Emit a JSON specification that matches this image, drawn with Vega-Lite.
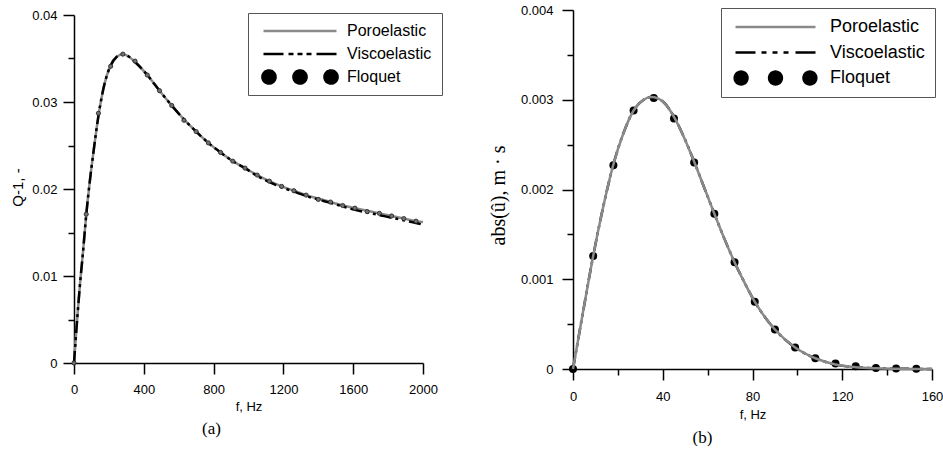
{
  "$schema": "https://vega.github.io/schema/vega-lite/v6.json",
  "background": "white",
  "padding": {"left": 10, "top": 4, "right": 0, "bottom": 0},
  "spacing": 45,
  "resolve": {"scale": {"color": "independent"}, "legend": {"color": "independent"}},
  "config": {
    "view": {"stroke": null},
    "axis": {"grid": false, "domainColor": "black", "domainWidth": 1.5, "tickColor": "black", "tickWidth": 1.5, "labelColor": "black", "labelFont": "Liberation Sans", "labelFontSize": 13, "titleFont": "Liberation Sans", "titleFontSize": 13, "titleFontWeight": "normal", "titleColor": "black"},
    "legend": {"labelFont": "Liberation Sans", "labelColor": "black", "strokeColor": "#555555", "fillColor": "white", "symbolType": "stroke", "cornerRadius": 0},
    "title": {"font": "Liberation Serif", "fontWeight": "normal", "fontSize": 17, "color": "black"}
  },
  "datasets": {
    "a_lines": [
      {"series": "Poroelastic", "f": 0, "v": 0}, {"series": "Poroelastic", "f": 10, "v": 0.0028}, {"series": "Poroelastic", "f": 20, "v": 0.0055}, {"series": "Poroelastic", "f": 35, "v": 0.0092}, {"series": "Poroelastic", "f": 50, "v": 0.0124}, {"series": "Poroelastic", "f": 70, "v": 0.017}, {"series": "Poroelastic", "f": 90, "v": 0.0208}, {"series": "Poroelastic", "f": 110, "v": 0.024}, {"series": "Poroelastic", "f": 140, "v": 0.0284}, {"series": "Poroelastic", "f": 175, "v": 0.0321}, {"series": "Poroelastic", "f": 210, "v": 0.0342}, {"series": "Poroelastic", "f": 245, "v": 0.0352}, {"series": "Poroelastic", "f": 280, "v": 0.0355}, {"series": "Poroelastic", "f": 315, "v": 0.0352}, {"series": "Poroelastic", "f": 350, "v": 0.0346}, {"series": "Poroelastic", "f": 420, "v": 0.0331}, {"series": "Poroelastic", "f": 490, "v": 0.0313}, {"series": "Poroelastic", "f": 560, "v": 0.0296}, {"series": "Poroelastic", "f": 630, "v": 0.028}, {"series": "Poroelastic", "f": 700, "v": 0.0266}, {"series": "Poroelastic", "f": 770, "v": 0.0253}, {"series": "Poroelastic", "f": 840, "v": 0.0242}, {"series": "Poroelastic", "f": 910, "v": 0.0232}, {"series": "Poroelastic", "f": 980, "v": 0.0224}, {"series": "Poroelastic", "f": 1050, "v": 0.0216}, {"series": "Poroelastic", "f": 1120, "v": 0.0209}, {"series": "Poroelastic", "f": 1190, "v": 0.0203}, {"series": "Poroelastic", "f": 1260, "v": 0.0198}, {"series": "Poroelastic", "f": 1330, "v": 0.0193}, {"series": "Poroelastic", "f": 1400, "v": 0.0189}, {"series": "Poroelastic", "f": 1470, "v": 0.0185}, {"series": "Poroelastic", "f": 1540, "v": 0.0181}, {"series": "Poroelastic", "f": 1610, "v": 0.0178}, {"series": "Poroelastic", "f": 1680, "v": 0.0175}, {"series": "Poroelastic", "f": 1750, "v": 0.0172}, {"series": "Poroelastic", "f": 1820, "v": 0.0169}, {"series": "Poroelastic", "f": 1890, "v": 0.0166}, {"series": "Poroelastic", "f": 1960, "v": 0.0163}, {"series": "Poroelastic", "f": 2000, "v": 0.0162},
      {"series": "Viscoelastic", "f": 0, "v": 0}, {"series": "Viscoelastic", "f": 10, "v": 0.0028}, {"series": "Viscoelastic", "f": 20, "v": 0.0055}, {"series": "Viscoelastic", "f": 35, "v": 0.0092}, {"series": "Viscoelastic", "f": 50, "v": 0.0124}, {"series": "Viscoelastic", "f": 70, "v": 0.017}, {"series": "Viscoelastic", "f": 90, "v": 0.0208}, {"series": "Viscoelastic", "f": 110, "v": 0.024}, {"series": "Viscoelastic", "f": 140, "v": 0.0284}, {"series": "Viscoelastic", "f": 175, "v": 0.0321}, {"series": "Viscoelastic", "f": 210, "v": 0.0342}, {"series": "Viscoelastic", "f": 245, "v": 0.0352}, {"series": "Viscoelastic", "f": 280, "v": 0.0355}, {"series": "Viscoelastic", "f": 315, "v": 0.0352}, {"series": "Viscoelastic", "f": 350, "v": 0.0346}, {"series": "Viscoelastic", "f": 420, "v": 0.0331}, {"series": "Viscoelastic", "f": 490, "v": 0.0313}, {"series": "Viscoelastic", "f": 560, "v": 0.0296}, {"series": "Viscoelastic", "f": 630, "v": 0.028}, {"series": "Viscoelastic", "f": 700, "v": 0.0266}, {"series": "Viscoelastic", "f": 770, "v": 0.0253}, {"series": "Viscoelastic", "f": 840, "v": 0.0242}, {"series": "Viscoelastic", "f": 910, "v": 0.0232}, {"series": "Viscoelastic", "f": 980, "v": 0.0224}, {"series": "Viscoelastic", "f": 1050, "v": 0.0215}, {"series": "Viscoelastic", "f": 1120, "v": 0.0208}, {"series": "Viscoelastic", "f": 1190, "v": 0.0202}, {"series": "Viscoelastic", "f": 1260, "v": 0.0197}, {"series": "Viscoelastic", "f": 1330, "v": 0.0192}, {"series": "Viscoelastic", "f": 1400, "v": 0.0188}, {"series": "Viscoelastic", "f": 1470, "v": 0.0184}, {"series": "Viscoelastic", "f": 1540, "v": 0.018}, {"series": "Viscoelastic", "f": 1610, "v": 0.0176}, {"series": "Viscoelastic", "f": 1680, "v": 0.0173}, {"series": "Viscoelastic", "f": 1750, "v": 0.017}, {"series": "Viscoelastic", "f": 1820, "v": 0.0167}, {"series": "Viscoelastic", "f": 1890, "v": 0.0164}, {"series": "Viscoelastic", "f": 1960, "v": 0.0161}, {"series": "Viscoelastic", "f": 2000, "v": 0.0159}
    ],
    "a_pts": [
      {"f": 0, "v": 0}, {"f": 70, "v": 0.0171}, {"f": 140, "v": 0.0287}, {"f": 210, "v": 0.0341}, {"f": 280, "v": 0.0355}, {"f": 350, "v": 0.0347}, {"f": 420, "v": 0.0331}, {"f": 490, "v": 0.0313}, {"f": 560, "v": 0.0296}, {"f": 630, "v": 0.0279}, {"f": 700, "v": 0.0266}, {"f": 770, "v": 0.0253}, {"f": 840, "v": 0.0242}, {"f": 910, "v": 0.0232}, {"f": 980, "v": 0.0224}, {"f": 1050, "v": 0.0216}, {"f": 1120, "v": 0.0209}, {"f": 1190, "v": 0.0203}, {"f": 1260, "v": 0.0198}, {"f": 1330, "v": 0.0193}, {"f": 1400, "v": 0.0188}, {"f": 1470, "v": 0.0185}, {"f": 1540, "v": 0.0181}, {"f": 1610, "v": 0.0178}, {"f": 1680, "v": 0.0174}, {"f": 1750, "v": 0.0172}, {"f": 1820, "v": 0.0169}, {"f": 1890, "v": 0.0166}, {"f": 1960, "v": 0.0163}
    ],
    "b_lines": [
      {"series": "Poroelastic", "f": 0, "v": 0}, {"series": "Poroelastic", "f": 4.5, "v": 0.00064}, {"series": "Poroelastic", "f": 9, "v": 0.00126}, {"series": "Poroelastic", "f": 13.5, "v": 0.00181}, {"series": "Poroelastic", "f": 18, "v": 0.00228}, {"series": "Poroelastic", "f": 22.5, "v": 0.00263}, {"series": "Poroelastic", "f": 27, "v": 0.00288}, {"series": "Poroelastic", "f": 31.5, "v": 0.003}, {"series": "Poroelastic", "f": 35, "v": 0.00303}, {"series": "Poroelastic", "f": 40.5, "v": 0.00297}, {"series": "Poroelastic", "f": 45, "v": 0.00281}, {"series": "Poroelastic", "f": 49.5, "v": 0.00258}, {"series": "Poroelastic", "f": 54, "v": 0.00231}, {"series": "Poroelastic", "f": 58.5, "v": 0.00202}, {"series": "Poroelastic", "f": 63, "v": 0.00173}, {"series": "Poroelastic", "f": 67.5, "v": 0.00145}, {"series": "Poroelastic", "f": 72, "v": 0.00119}, {"series": "Poroelastic", "f": 76.5, "v": 0.00096}, {"series": "Poroelastic", "f": 81, "v": 0.00075}, {"series": "Poroelastic", "f": 85.5, "v": 0.00058}, {"series": "Poroelastic", "f": 90, "v": 0.00044}, {"series": "Poroelastic", "f": 99, "v": 0.00024}, {"series": "Poroelastic", "f": 108, "v": 0.00012}, {"series": "Poroelastic", "f": 117, "v": 0.00005}, {"series": "Poroelastic", "f": 126, "v": 0.00002}, {"series": "Poroelastic", "f": 135, "v": 0.000008}, {"series": "Poroelastic", "f": 144, "v": 0.000003}, {"series": "Poroelastic", "f": 153, "v": 0.000001}, {"series": "Poroelastic", "f": 160, "v": 0},
      {"series": "Viscoelastic", "f": 0, "v": 0}, {"series": "Viscoelastic", "f": 4.5, "v": 0.00064}, {"series": "Viscoelastic", "f": 9, "v": 0.00126}, {"series": "Viscoelastic", "f": 13.5, "v": 0.00181}, {"series": "Viscoelastic", "f": 18, "v": 0.00228}, {"series": "Viscoelastic", "f": 22.5, "v": 0.00263}, {"series": "Viscoelastic", "f": 27, "v": 0.00288}, {"series": "Viscoelastic", "f": 31.5, "v": 0.003}, {"series": "Viscoelastic", "f": 35, "v": 0.00303}, {"series": "Viscoelastic", "f": 40.5, "v": 0.00297}, {"series": "Viscoelastic", "f": 45, "v": 0.00281}, {"series": "Viscoelastic", "f": 49.5, "v": 0.00258}, {"series": "Viscoelastic", "f": 54, "v": 0.00231}, {"series": "Viscoelastic", "f": 58.5, "v": 0.00202}, {"series": "Viscoelastic", "f": 63, "v": 0.00173}, {"series": "Viscoelastic", "f": 67.5, "v": 0.00145}, {"series": "Viscoelastic", "f": 72, "v": 0.00119}, {"series": "Viscoelastic", "f": 76.5, "v": 0.00096}, {"series": "Viscoelastic", "f": 81, "v": 0.00075}, {"series": "Viscoelastic", "f": 85.5, "v": 0.00058}, {"series": "Viscoelastic", "f": 90, "v": 0.00044}, {"series": "Viscoelastic", "f": 99, "v": 0.00024}, {"series": "Viscoelastic", "f": 108, "v": 0.00012}, {"series": "Viscoelastic", "f": 117, "v": 0.00005}, {"series": "Viscoelastic", "f": 126, "v": 0.00002}, {"series": "Viscoelastic", "f": 135, "v": 0.000008}, {"series": "Viscoelastic", "f": 144, "v": 0.000003}, {"series": "Viscoelastic", "f": 153, "v": 0.000001}, {"series": "Viscoelastic", "f": 160, "v": 0}
    ],
    "b_pts": [
      {"f": 0, "v": 0}, {"f": 9, "v": 0.00126}, {"f": 18, "v": 0.00227}, {"f": 27, "v": 0.00288}, {"f": 36, "v": 0.00302}, {"f": 45, "v": 0.00279}, {"f": 54, "v": 0.0023}, {"f": 63, "v": 0.00173}, {"f": 72, "v": 0.00119}, {"f": 81, "v": 0.00075}, {"f": 90, "v": 0.00044}, {"f": 99, "v": 0.00024}, {"f": 108, "v": 0.00012}, {"f": 117, "v": 0.00006}, {"f": 126, "v": 0.00003}, {"f": 135, "v": 0.00001}, {"f": 144, "v": 0.000005}, {"f": 153, "v": 0.000002}
    ],
    "spacer": []
  },
  "hconcat": [
    {
      "spacing": 0,
      "bounds": "flush",
      "resolve": {"scale": {"color": "independent"}, "legend": {"color": "independent"}},
      "vconcat": [
        {"width": 349, "height": 5, "data": {"name": "spacer"}, "mark": "point"},
        {
          "width": 349,
          "height": 348,
          "title": {"text": "(a)", "orient": "bottom", "anchor": "middle", "dx": -37, "offset": 8},
          "layer": [
            {
              "data": {"name": "a_lines"},
              "transform": [{"filter": "datum.series === 'Poroelastic'"}],
              "mark": {"type": "line", "strokeWidth": 2.5, "interpolate": "monotone", "clip": false},
              "encoding": {
                "x": {"field": "f", "type": "quantitative", "scale": {"domain": [0, 2000], "nice": false, "zero": true},
                  "axis": {"title": "f, Hz", "values": [0, 200, 400, 600, 800, 1000, 1200, 1400, 1600, 1800, 2000], "format": "d", "labelExpr": "datum.value % 400 === 0 ? datum.label : ''", "tickSize": {"condition": {"test": "datum.value % 400 === 0", "value": 11}, "value": 6}, "labelPadding": 9, "titlePadding": 4, "labelFlush": false, "labelOverlap": false}},
                "y": {"field": "v", "type": "quantitative", "scale": {"domain": [0, 0.04], "nice": false},
                  "axis": {"title": "Q-1,  -", "titleFontSize": 15, "titleY": 172, "values": [0, 0.005, 0.01, 0.015, 0.02, 0.025, 0.03, 0.035, 0.04], "format": "~g", "labelExpr": "round(datum.value * 1000) % 10 === 0 ? datum.label : ''", "tickSize": {"condition": {"test": "round(datum.value * 1000) % 10 === 0", "value": 11}, "value": 6}, "labelPadding": 6, "titlePadding": 6, "labelFlush": false, "labelOverlap": false}},
                "color": {"field": "series", "type": "nominal",
                  "scale": {"domain": ["Poroelastic", "Viscoelastic", "Floquet"], "range": ["#8a8a8a", "#000000", "#000000"]},
                  "legend": {"title": null, "orient": "none", "legendX": 174, "legendY": -2, "padding": 10, "symbolSize": 5329, "symbolStrokeWidth": 2.5, "symbolOffset": 4, "clipHeight": 16, "rowPadding": 7, "labelFontSize": 16, "labelOffset": 9, "labelLimit": 0,
                    "encode": {"symbols": {"update": {
                      "shape": {"signal": "datum.value === 'Floquet' ? 'M-1.03,0A0.18,0.18 0 1,0 -0.67,0A0.18,0.18 0 1,0 -1.03,0ZM-0.18,0A0.18,0.18 0 1,0 0.18,0A0.18,0.18 0 1,0 -0.18,0ZM0.67,0A0.18,0.18 0 1,0 1.03,0A0.18,0.18 0 1,0 0.67,0Z' : 'stroke'"},
                      "fill": {"signal": "datum.value === 'Floquet' ? 'black' : 'transparent'"},
                      "stroke": {"signal": "datum.value === 'Poroelastic' ? '#8a8a8a' : (datum.value === 'Viscoelastic' ? 'black' : 'transparent')"},
                      "strokeDash": {"signal": "datum.value === 'Viscoelastic' ? [20, 5, 5, 4, 5, 4, 5, 5, 20] : [1, 0]"},
                      "strokeWidth": {"value": 2.5},
                      "size": {"value": 5329},
                      "opacity": {"value": 1}
                    }}}}}
              }
            },
            {
              "data": {"name": "a_lines"},
              "transform": [{"filter": "datum.series === 'Viscoelastic'"}],
              "mark": {"type": "line", "strokeWidth": 2.5, "interpolate": "monotone", "strokeDash": [12, 4, 3, 4, 3, 4], "clip": false},
              "encoding": {
                "x": {"field": "f", "type": "quantitative"},
                "y": {"field": "v", "type": "quantitative"},
                "color": {"field": "series", "type": "nominal"}
              }
            },
            {
              "data": {"name": "a_pts"},
              "mark": {"type": "point", "filled": true, "size": 18, "color": "#707070", "stroke": "#222222", "strokeWidth": 0.8, "opacity": 1, "clip": false},
              "encoding": {
                "x": {"field": "f", "type": "quantitative"},
                "y": {"field": "v", "type": "quantitative"}
              }
            }
          ]
        }
      ]
    },
    {
      "width": 359,
      "height": 359,
      "title": {"text": "(b)", "orient": "bottom", "anchor": "middle", "dx": -50, "offset": 9},
      "layer": [
        {
          "data": {"name": "b_pts"},
          "mark": {"type": "point", "filled": true, "size": 64, "color": "#000000", "opacity": 1, "clip": false},
          "encoding": {
            "x": {"field": "f", "type": "quantitative", "scale": {"domain": [0, 160], "nice": false},
              "axis": {"title": "f, Hz", "values": [0, 20, 40, 60, 80, 100, 120, 140, 160], "format": "d", "labelExpr": "datum.value % 40 === 0 ? datum.label : ''", "tickSize": {"condition": {"test": "datum.value % 40 === 0", "value": 11}, "value": 6}, "labelPadding": 10, "titlePadding": 5, "labelFlush": false, "labelOverlap": false}},
            "y": {"field": "v", "type": "quantitative", "scale": {"domain": [0, 0.004], "nice": false},
              "axis": {"title": "abs(û), m · s", "titleFont": "Liberation Serif", "titleFontSize": 20, "titleY": 185, "values": [0, 0.0005, 0.001, 0.0015, 0.002, 0.0025, 0.003, 0.0035, 0.004], "format": "~g", "labelExpr": "round(datum.value * 10000) % 10 === 0 ? datum.label : ''", "tickSize": {"condition": {"test": "round(datum.value * 10000) % 10 === 0", "value": 11}, "value": 6}, "labelPadding": 9, "titlePadding": 12, "labelFlush": false, "labelOverlap": false}}
          }
        },
        {
          "data": {"name": "b_lines"},
          "transform": [{"filter": "datum.series === 'Viscoelastic'"}],
          "mark": {"type": "line", "strokeWidth": 2.5, "interpolate": "monotone", "strokeDash": [12, 4, 3, 4, 3, 4], "clip": false},
          "encoding": {
            "x": {"field": "f", "type": "quantitative"},
            "y": {"field": "v", "type": "quantitative"},
            "color": {"field": "series", "type": "nominal",
              "scale": {"domain": ["Poroelastic", "Viscoelastic", "Floquet"], "range": ["#8a8a8a", "#000000", "#000000"]},
              "legend": {"title": null, "orient": "none", "legendX": 148, "legendY": -2, "padding": 10, "symbolSize": 6400, "symbolStrokeWidth": 2.5, "symbolOffset": 3, "clipHeight": 18, "rowPadding": 7.5, "labelFontSize": 18, "labelOffset": 13, "labelLimit": 0,
                "encode": {"symbols": {"update": {
                  "shape": {"signal": "datum.value === 'Floquet' ? 'M-1.02,0A0.16,0.16 0 1,0 -0.7,0A0.16,0.16 0 1,0 -1.02,0ZM-0.16,0A0.16,0.16 0 1,0 0.16,0A0.16,0.16 0 1,0 -0.16,0ZM0.7,0A0.16,0.16 0 1,0 1.02,0A0.16,0.16 0 1,0 0.7,0Z' : 'stroke'"},
                  "fill": {"signal": "datum.value === 'Floquet' ? 'black' : 'transparent'"},
                  "stroke": {"signal": "datum.value === 'Poroelastic' ? '#8a8a8a' : (datum.value === 'Viscoelastic' ? 'black' : 'transparent')"},
                  "strokeDash": {"signal": "datum.value === 'Viscoelastic' ? [20, 6, 5, 6, 5, 6, 5, 7, 20] : [1, 0]"},
                  "strokeWidth": {"value": 2.5},
                  "size": {"value": 6400},
                  "opacity": {"value": 1}
                }}}}}
          }
        },
        {
          "data": {"name": "b_lines"},
          "transform": [{"filter": "datum.series === 'Poroelastic'"}],
          "mark": {"type": "line", "strokeWidth": 2.5, "interpolate": "monotone", "clip": false},
          "encoding": {
            "x": {"field": "f", "type": "quantitative"},
            "y": {"field": "v", "type": "quantitative"},
            "color": {"field": "series", "type": "nominal"}
          }
        }
      ]
    }
  ]
}
